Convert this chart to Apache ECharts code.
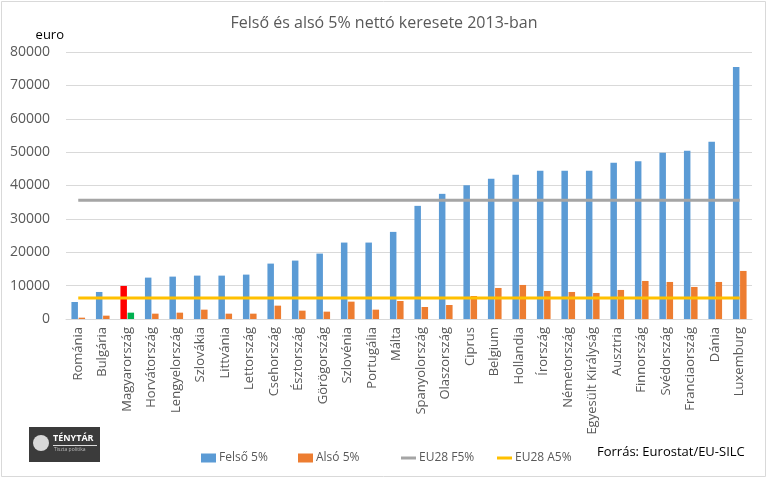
<!DOCTYPE html>
<html>
<head>
<meta charset="utf-8">
<script src="https://cdn.jsdelivr.net/npm/echarts@6/dist/echarts.min.js"></script>
<style>
html,body{margin:0;padding:0;background:#fff;}
#c{width:768px;height:479px;}
</style>
</head>
<body>
<div id="c"></div>
<script>
const categories = ["Románia","Bulgária","Magyarország","Horvátország","Lengyelország","Szlovákia","Littvánia","Lettország","Csehország","Észtország","Görögország","Szlovénia","Portugália","Málta","Spanyolország","Olaszország","Ciprus","Belgium","Hollandia","Írország","Németország","Egyesült Királyság","Ausztria","Finnország","Svédország","Franciaország","Dánia","Luxemburg"];
const felso5 = [5100,8100,9900,12400,12700,13000,13000,13300,16600,17500,19600,22900,22900,26100,33900,37500,40100,42000,43200,44400,44400,44400,46800,47300,49800,50400,53100,75500];
const also5 = [400,1000,1900,1600,1900,2800,1600,1600,4000,2500,2200,5200,2800,5400,3600,4200,6900,9300,10200,8400,8100,7800,8700,11400,11100,9600,11100,14400];
const eu28F5 = 35600;
const eu28A5 = 6300;
const yTicks = [0,10000,20000,30000,40000,50000,60000,70000,80000];
const highlightCategory = "Magyarország";
const seriesNames = ['Felső 5%','Alsó 5%','EU28 F5%','EU28 A5%'];

const txt = '#595959';
const font = 'Open Sans';
const hi = categories.indexOf(highlightCategory);
const lineIcon = 'path://M0,0H15V3H0Z';
const legendLefts = [196, 293, 396, 492];
const legendIcons = ['rect', 'rect', lineIcon, lineIcon];

const chart = echarts.init(document.getElementById('c'));
chart.setOption({
  animation: false,
  backgroundColor: '#fff',
  textStyle: {fontFamily: font},
  title: {
    text: 'Felső és alsó 5% nettó keresete 2013-ban',
    left: 'center', top: 10,
    textStyle: {fontFamily: font, fontSize: 16, fontWeight: 'normal', color: txt}
  },
  grid: {left: 66, right: 16, top: 52, bottom: 160, containLabel: false},
  xAxis: {
    type: 'category',
    data: categories,
    axisLine: {lineStyle: {color: '#D9D9D9'}},
    axisTick: {show: false},
    axisLabel: {rotate: 90, interval: 0, color: txt, fontSize: 13, margin: 8, fontFamily: font}
  },
  yAxis: {
    type: 'value',
    min: yTicks[0], max: yTicks[yTicks.length-1], interval: yTicks[1]-yTicks[0],
    name: 'euro', nameLocation: 'end', nameGap: 10,
    nameTextStyle: {color: '#000', fontSize: 13, align: 'right', padding: [0,2,0,0], fontFamily: font},
    axisLine: {show: false},
    axisTick: {show: false},
    splitLine: {lineStyle: {color: '#D9D9D9'}},
    axisLabel: {color: txt, fontSize: 14, margin: 16, fontFamily: font, formatter: v => String(v)}
  },
  legend: seriesNames.map((n, i) => ({
    left: legendLefts[i], top: 447,
    itemWidth: 15, itemHeight: 9, itemGap: 4, symbolKeepAspect: true,
    textStyle: {color: txt, fontSize: 12, fontFamily: font, padding: [0,0,0,-2]},
    data: [{name: n, icon: legendIcons[i]}]
  })),
  series: [
    {
      name: seriesNames[0], type: 'bar', barWidth: 6.5, barGap: '10%',
      itemStyle: {color: '#5B9BD5'},
      data: felso5.map((v,i) => i === hi ? {value: v, itemStyle: {color: '#FF0000'}} : v)
    },
    {
      name: seriesNames[1], type: 'bar', barWidth: 6.5, barGap: '10%',
      itemStyle: {color: '#ED7D31'},
      data: also5.map((v,i) => i === hi ? {value: v, itemStyle: {color: '#00B050'}} : v)
    },
    {
      name: seriesNames[2], type: 'line', symbol: 'none', z: 5,
      lineStyle: {color: '#A5A5A5', width: 3}, itemStyle: {color: '#A5A5A5'},
      data: [[categories[0], eu28F5], [categories[categories.length-1], eu28F5]]
    },
    {
      name: seriesNames[3], type: 'line', symbol: 'none', z: 5,
      lineStyle: {color: '#FFC000', width: 3}, itemStyle: {color: '#FFC000'},
      data: [[categories[0], eu28A5], [categories[categories.length-1], eu28A5]]
    }
  ],
  graphic: [
    {type: 'rect', shape: {x: 1.5, y: 1.5, width: 764, height: 475}, style: {fill: 'none', stroke: '#D9D9D9', lineWidth: 1}, silent: true},
    {type: 'text', left: 597, top: 446, style: {text: 'Forrás: Eurostat/EU-SILC', fill: '#000', fontSize: 13, fontFamily: font}},
    {type: 'group', left: 29, top: 427, children: [
      {type: 'rect', shape: {x: 0, y: 0, width: 71, height: 35}, style: {fill: '#3b3b3b'}},
      {type: 'circle', shape: {cx: 12, cy: 16, r: 8}, style: {fill: '#d8d8d8'}},
      {type: 'text', x: 24, y: 7, style: {text: 'TÉNYTÁR', fill: '#fff', fontSize: 9, fontWeight: 'bold', fontFamily: font}},
      {type: 'rect', shape: {x: 24, y: 18, width: 44, height: 1}, style: {fill: '#ddd'}},
      {type: 'text', x: 25, y: 20, style: {text: 'Tiszta politika', fill: '#bbb', fontSize: 5, fontFamily: font}}
    ]}
  ]
});
</script>
</body>
</html>
